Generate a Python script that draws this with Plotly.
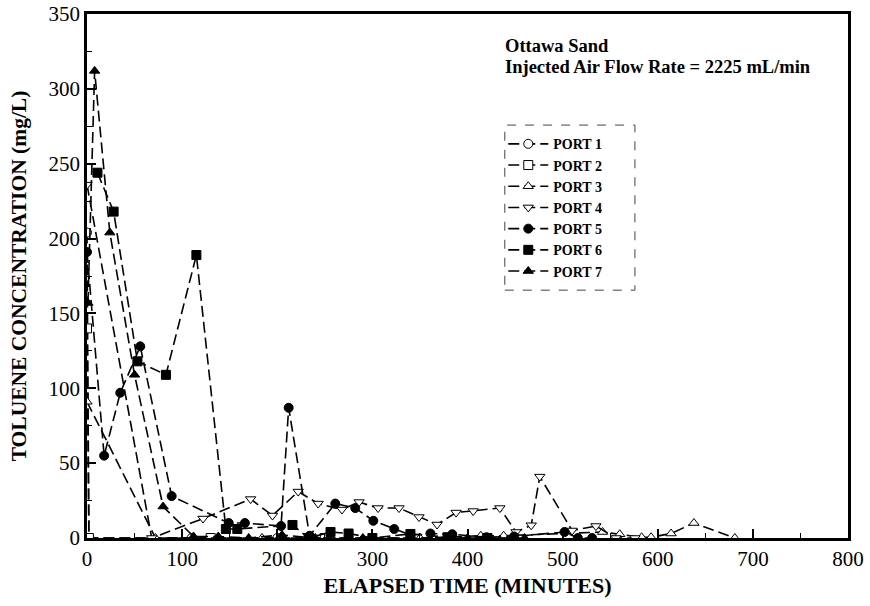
import plotly.graph_objects as go

# ---- data ----
port1_x = [0, 2, 110, 200]
port1_y = [204, 0, 0, 0]

port2_x = [0, 2, 130, 250]
port2_y = [140, 0, 0, 0]

port3_x = [0, 72, 184, 300, 350, 414, 438, 542, 560, 583, 593, 614, 638, 681]
port3_y = [91, 0, 0, 0, 0, 1.5, 1.5, 4, 2.5, 0.5, 0.5, 3, 10, 0]

port4_x = [0, 68, 122, 172, 195, 222, 243, 268, 286, 306, 328, 349, 368, 388,
           406, 434, 451, 467, 476, 510, 535, 556, 576]
port4_y = [236, 0, 13, 26, 15, 31, 23, 19, 24, 20, 20, 14, 9, 17,
           18, 20, 4, 8.5, 41, 5, 8, 0, 0]

port5_x = [0, 18, 35, 56, 89, 149, 166, 204, 212, 234, 261, 282, 301, 323,
           340, 361, 384, 420, 449, 502, 516, 531]
port5_y = [191, 55, 97, 128, 28, 10, 10, 8, 87, 1.5, 23, 20, 11.5, 6,
           2, 3, 2.5, 0.5, 1, 4, 0, 0]

port6_x = [11, 28, 53, 83, 115, 146, 158, 216, 233, 256, 275, 300, 340, 379, 421]
port6_y = [244, 218, 118, 109, 189, 6, 6, 8.7, 0, 4, 3, 0, 2.7, 0.5, 0]

port7_x = [1, 8, 24, 50, 80, 112, 138, 170, 205, 240, 290, 340, 400, 460]
port7_y = [157, 312, 204, 109, 21, 1, 1, 0, 2, 0, 0, 0, 0, 0]

names = ["PORT 1", "PORT 2", "PORT 3", "PORT 4", "PORT 5", "PORT 6", "PORT 7"]
xs = [port1_x, port2_x, port3_x, port4_x, port5_x, port6_x, port7_x]
ys = [port1_y, port2_y, port3_y, port4_y, port5_y, port6_y, port7_y]
symbols = ["circle", "square", "triangle-up", "triangle-down", "circle", "square", "triangle-up"]
fills = ["white", "white", "white", "white", "black", "black", "black"]

FONT = "Liberation Serif, Times New Roman, serif"

fig = go.Figure()
for nm, x, y, sym, fc in zip(names, xs, ys, symbols, fills):
    fig.add_trace(go.Scatter(
        x=x, y=y, name="<b>" + nm + "</b>", mode="lines+markers",
        line=dict(color="black", width=1.6, dash="11px,5px"),
        marker=dict(symbol=sym, size=9, color=fc, line=dict(color="black", width=1)),
    ))

axis_common = dict(
    showgrid=False, zeroline=False, showline=True, linecolor="black", linewidth=2.5,
    mirror=True, ticks="inside", ticklen=9, tickwidth=1.5, tickcolor="black",
    tickfont=dict(family=FONT, size=21, color="black"), automargin=False,
    ticklabeloverflow="allow",
)

fig.update_xaxes(range=[0, 800], dtick=100, tick0=0,
                 minor=dict(dtick=50, ticks="inside", ticklen=5, tickwidth=1, tickcolor="black"),
                 title=dict(text="<b>ELAPSED TIME (MINUTES)</b>",
                            font=dict(family=FONT, size=22, color="black"), standoff=8),
                 **axis_common)
fig.update_yaxes(range=[0, 350], dtick=50, tick0=0,
                 minor=dict(dtick=25, ticks="inside", ticklen=5, tickwidth=1, tickcolor="black"),
                 title=dict(text="<b>TOLUENE CONCENTRATION (mg/L)</b>",
                            font=dict(family=FONT, size=21.5, color="black"), standoff=17),
                 **axis_common)

fig.add_annotation(x=0.547, y=0.939, xref="paper", yref="paper", xanchor="left", yanchor="middle",
                   text="<b>Ottawa Sand</b>", showarrow=False,
                   font=dict(family=FONT, size=18.5, color="black"))
fig.add_annotation(x=0.547, y=0.899, xref="paper", yref="paper", xanchor="left", yanchor="middle",
                   text="<b>Injected Air Flow Rate = 2225 mL/min</b>", showarrow=False,
                   font=dict(family=FONT, size=18.5, color="black"))

fig.add_shape(type="rect", xref="paper", yref="paper", x0=0.549, x1=0.720, y0=0.473, y1=0.788,
              line=dict(color="#444", width=1, dash="dash"), fillcolor="rgba(0,0,0,0)", layer="below")

fig.update_layout(
    width=870, height=606,
    margin=dict(l=87, r=22, t=14, b=68),
    paper_bgcolor="white", plot_bgcolor="white",
    font=dict(family=FONT, color="black"),
    legend=dict(x=0.547, y=0.782, xanchor="left", yanchor="top",
                bgcolor="rgba(255,255,255,0)", borderwidth=0,
                font=dict(family=FONT, size=14, color="black"),
                itemwidth=40, tracegroupgap=0),
    showlegend=True,
)

# remove the browser's default 8px body margin so the figure fills the window exactly
fig.write_html("out.html", config={"displayModeBar": False},
               post_script="document.body.style.margin='0';document.body.style.overflow='hidden';")
